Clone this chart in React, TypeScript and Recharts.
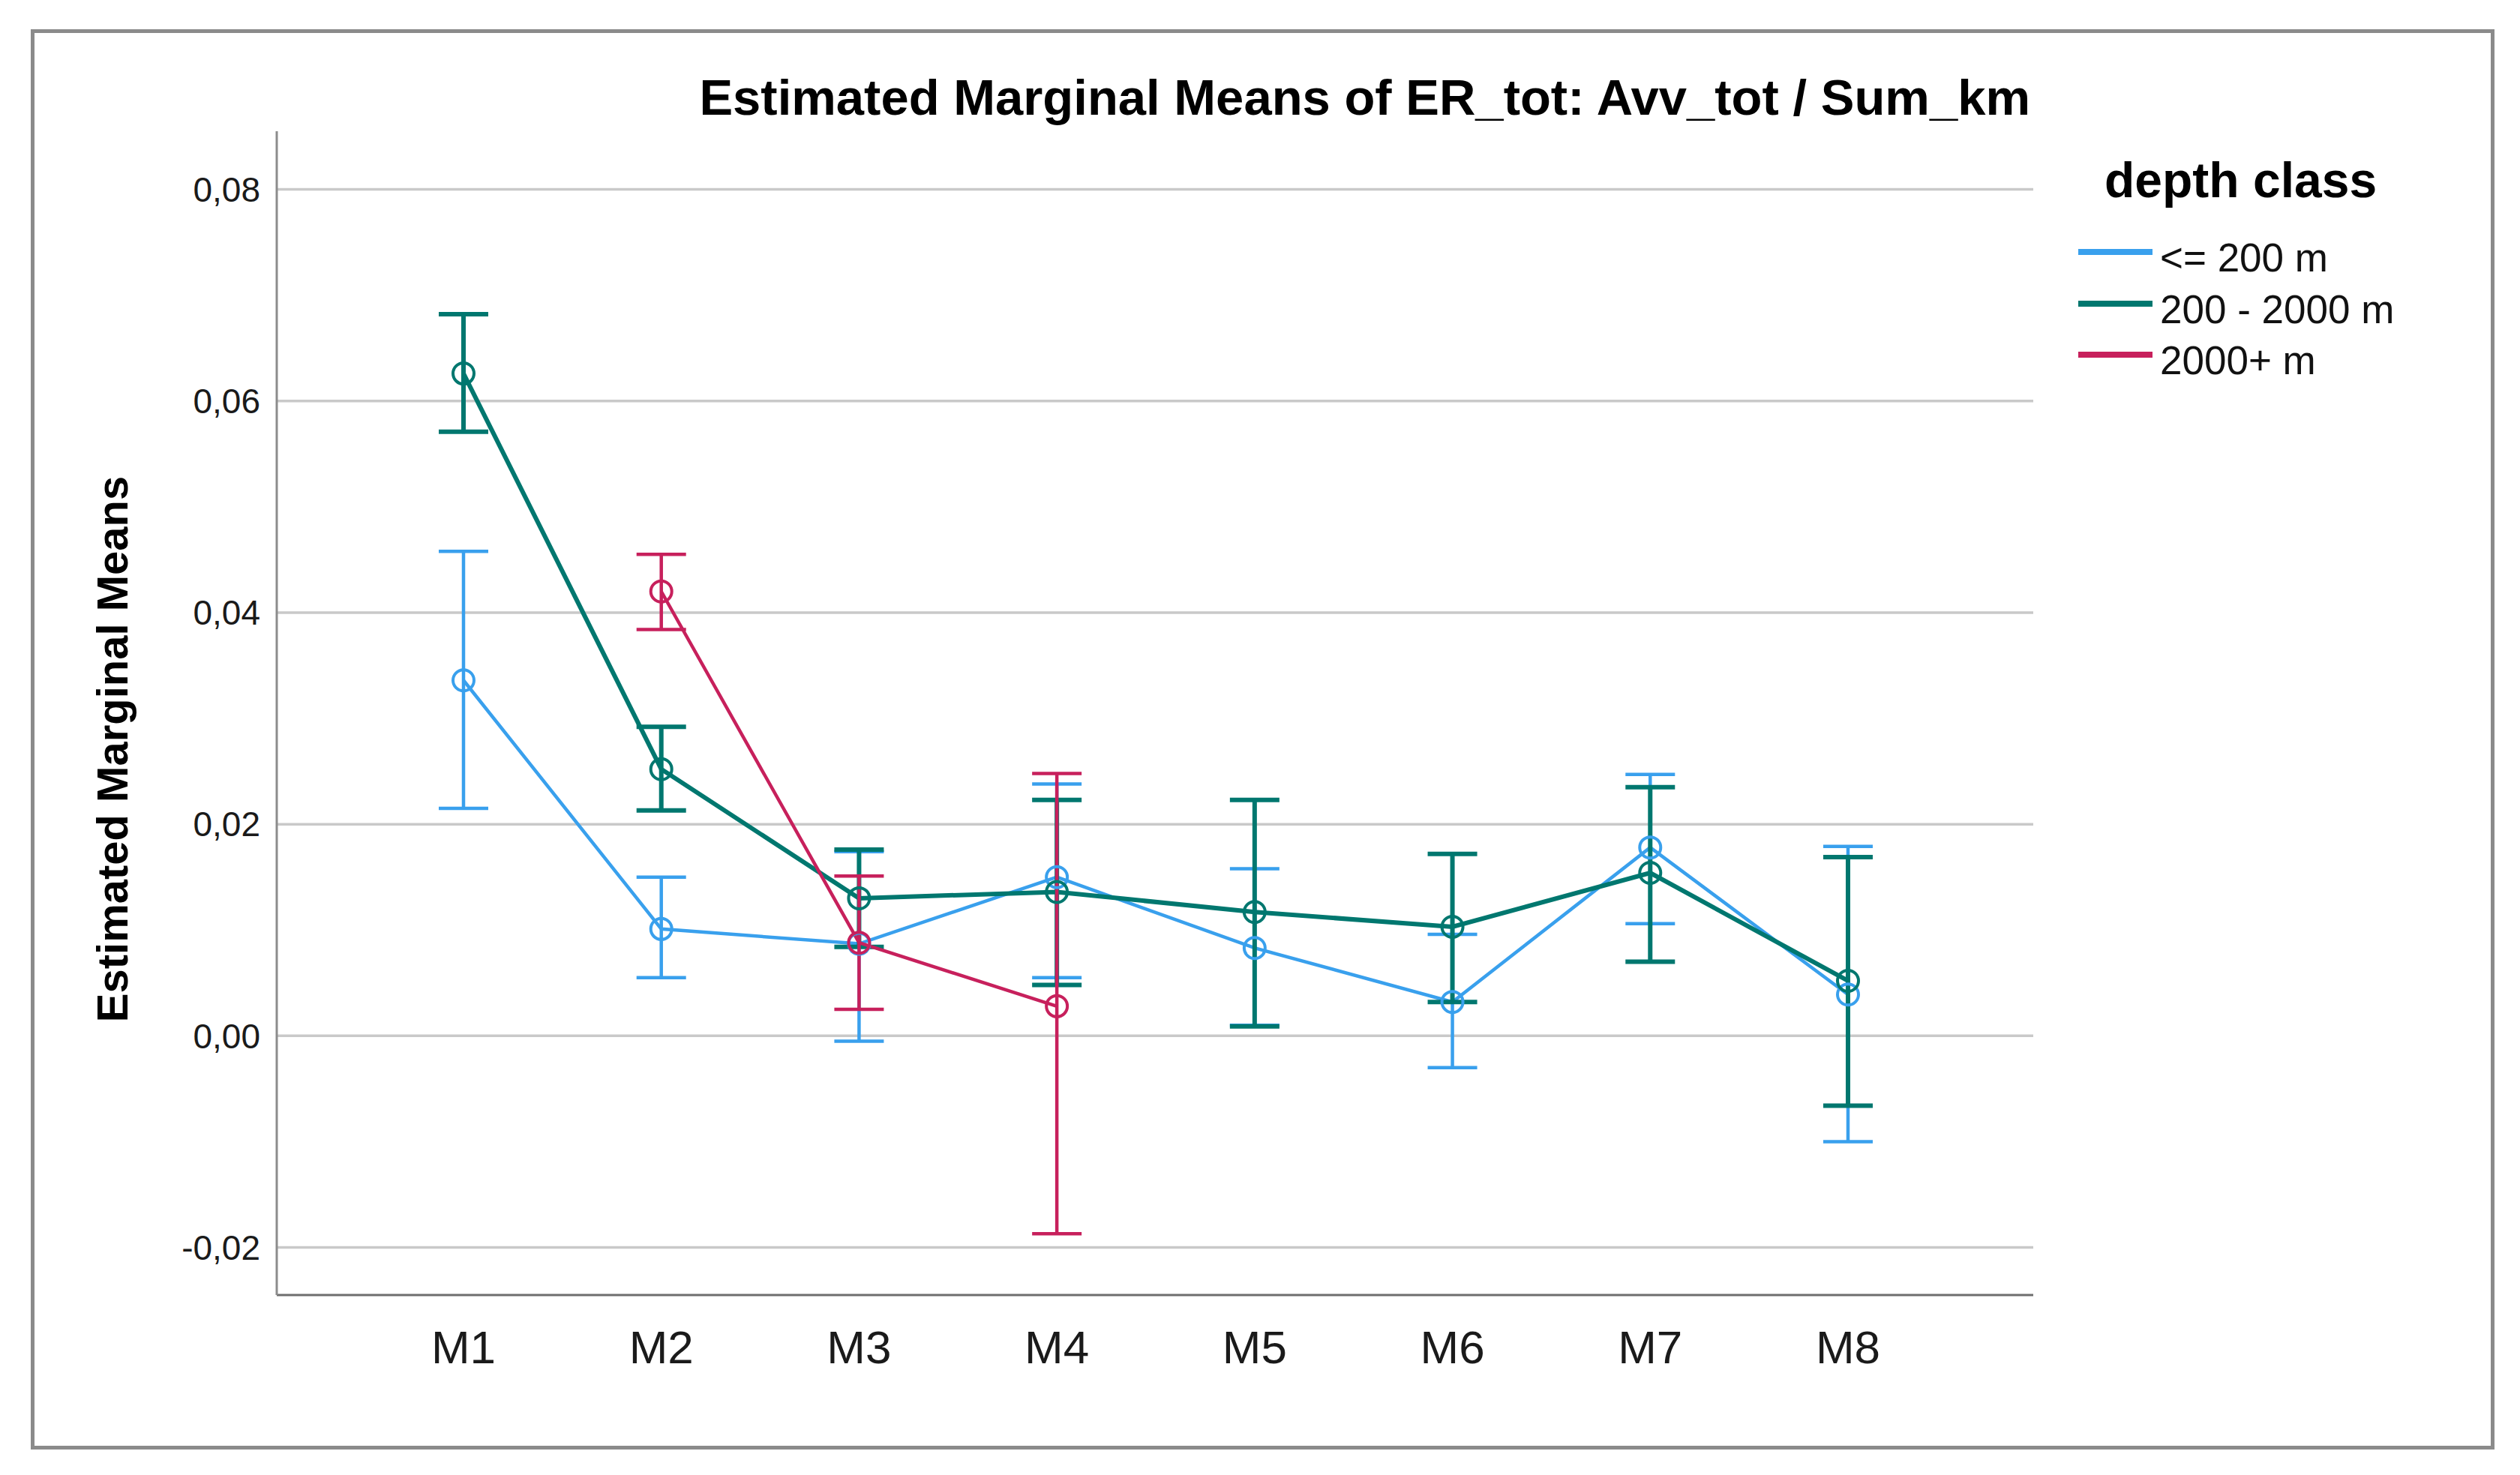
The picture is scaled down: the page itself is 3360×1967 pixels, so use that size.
import { LineChart, Line, XAxis, YAxis, CartesianGrid, ErrorBar } from 'recharts';

const categories = ['M1', 'M2', 'M3', 'M4', 'M5', 'M6', 'M7', 'M8'];

// <= 200 m
const shallowMean = [0.0336, 0.0101, 0.0087, 0.015, 0.0083, 0.0032, 0.0178, 0.0039];
const shallowLow = [0.0215, 0.0055, -0.0005, 0.0055, 0.001, -0.003, 0.0106, -0.01];
const shallowHigh = [0.0458, 0.015, 0.0174, 0.0238, 0.0158, 0.0096, 0.0247, 0.0179];

// 200 - 2000 m
const midMean = [0.0626, 0.0252, 0.013, 0.0136, 0.0117, 0.0103, 0.0154, 0.0052];
const midLow = [0.0571, 0.0213, 0.0084, 0.0048, 0.0009, 0.0032, 0.007, -0.0066];
const midHigh = [0.0682, 0.0292, 0.0176, 0.0223, 0.0223, 0.0172, 0.0235, 0.0169];

// 2000+ m
const deepMean = [null, 0.042, 0.0088, 0.0028, null, null, null, null];
const deepLow = [null, 0.0384, 0.0025, -0.0187, null, null, null, null];
const deepHigh = [null, 0.0455, 0.0151, 0.0248, null, null, null, null];

const yTicks = [-0.02, 0, 0.02, 0.04, 0.06, 0.08];

const series = [
  { key: 'shallow', label: '<= 200 m', color: '#39a0ed', width: 4.5 },
  { key: 'mid', label: '200 - 2000 m', color: '#00776f', width: 6 },
  { key: 'deep', label: '2000+ m', color: '#c7205c', width: 4.5 },
];

const err = (m: number | null, lo: number | null, hi: number | null) =>
  m == null || lo == null || hi == null ? undefined : [m - lo, hi - m];

const data = categories.map((name, i) => ({
  name,
  shallow: shallowMean[i],
  shallowErr: err(shallowMean[i], shallowLow[i], shallowHigh[i]),
  mid: midMean[i],
  midErr: err(midMean[i], midLow[i], midHigh[i]),
  deep: deepMean[i],
  deepErr: err(deepMean[i], deepLow[i], deepHigh[i]),
}));

const FONT = 'Arial, "Liberation Sans", sans-serif';

const YLabel = ({ viewBox }: any) => {
  const x = viewBox.x + 170;
  const y = viewBox.y + viewBox.height / 2 + 48;
  return (
    <text
      x={x}
      y={y}
      transform={`rotate(-90, ${x}, ${y})`}
      textAnchor="middle"
      fontFamily={FONT}
      fontWeight="bold"
      fontSize={58}
      fill="#000"
    >
      Estimated Marginal Means
    </text>
  );
};

export default function App() {
  return (
    <div style={{ position: 'absolute', left: 0, top: 0, width: 3360, height: 1967, background: '#fff', fontFamily: FONT }}>
      <div
        style={{
          position: 'absolute',
          left: 41,
          top: 39,
          width: 3285,
          height: 1894,
          border: '5px solid #8b8b8b',
          boxSizing: 'border-box',
        }}
      />
      <div
        style={{
          position: 'absolute',
          right: 3360 - 2707,
          top: 96,
          fontSize: 67,
          lineHeight: '67px',
          fontWeight: 'bold',
          color: '#000',
          whiteSpace: 'nowrap',
        }}
      >
        Estimated Marginal Means of ER_tot: Avv_tot / Sum_km
      </div>

      <div style={{ position: 'absolute', left: 0, top: 0 }}>
        <LineChart width={3360} height={1967} data={data} margin={{ top: 175, right: 649, bottom: 120, left: 0 }}>
          <CartesianGrid vertical={false} horizontalValues={yTicks} stroke="#c9c9c9" strokeWidth={3.5} />
          <XAxis
            dataKey="name"
            scale="point"
            padding={{ left: 249, right: 247 }}
            height={120}
            tickSize={0}
            tickMargin={47}
            axisLine={{ stroke: '#6e6e6e', strokeWidth: 3 }}
            tick={{ fill: '#1a1a1a', fontSize: 62, fontFamily: FONT }}
          />
          <YAxis
            width={369}
            domain={[-0.0245, 0.0855]}
            ticks={yTicks}
            tickSize={0}
            tickMargin={22}
            axisLine={{ stroke: '#8c8c8c', strokeWidth: 3 }}
            tick={{ fill: '#1a1a1a', fontSize: 46, fontFamily: FONT }}
            tickFormatter={(v: number) => v.toFixed(2).replace('.', ',')}
            allowDataOverflow
            label={<YLabel />}
          />
          {series.map((s) => (
            <Line
              key={s.key}
              type="linear"
              dataKey={s.key}
              stroke={s.color}
              strokeWidth={s.width}
              dot={{ r: 14, fill: 'none', stroke: s.color, strokeWidth: 4 }}
              activeDot={false}
              connectNulls={false}
              isAnimationActive={false}
            >
              <ErrorBar
                dataKey={`${s.key}Err`}
                direction="y"
                width={33}
                stroke={s.color}
                strokeWidth={s.width}
                isAnimationActive={false}
              />
            </Line>
          ))}
        </LineChart>
      </div>

      <div
        style={{
          position: 'absolute',
          left: 2806,
          top: 207,
          fontSize: 66,
          lineHeight: '66px',
          fontWeight: 'bold',
          color: '#000',
          whiteSpace: 'nowrap',
        }}
      >
        depth class
      </div>
      {series.map((s, i) => (
        <div key={s.key}>
          <div
            style={{
              position: 'absolute',
              left: 2771,
              top: 332 + i * 68.5,
              width: 99,
              height: 8,
              background: s.color,
            }}
          />
          <div
            style={{
              position: 'absolute',
              left: 2880,
              top: 317 + i * 68.5,
              fontSize: 53,
              lineHeight: '53px',
              color: '#111',
              whiteSpace: 'nowrap',
            }}
          >
            {s.label}
          </div>
        </div>
      ))}
    </div>
  );
}
